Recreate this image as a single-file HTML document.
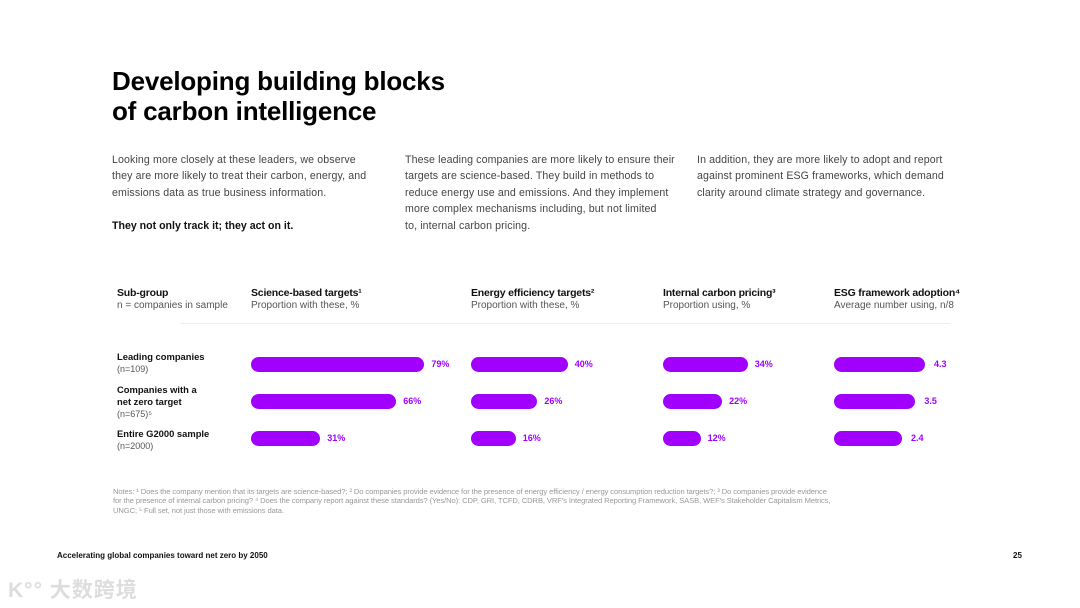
<!DOCTYPE html>
<html><head><meta charset="utf-8">
<style>
*{margin:0;padding:0;box-sizing:border-box}
body{width:1080px;height:608px;background:#fff;font-family:"Liberation Sans","Noto Sans CJK SC",sans-serif;color:#222;position:relative;overflow:hidden}
.abs{position:absolute}
h1{position:absolute;left:112px;top:66px;font-size:26px;line-height:30px;font-weight:bold;color:#000;letter-spacing:-0.2px}
.p{position:absolute;top:152px;font-size:10.6px;line-height:16.4px;color:#444;letter-spacing:0.12px;white-space:nowrap}
.hd b{font-size:10.5px;color:#111;display:block;letter-spacing:-0.2px}
.hd span{font-size:10px;color:#555;display:block;margin-top:1px}
.rl{font-size:9.4px;line-height:12px;color:#111;font-weight:bold}
.rl span{font-weight:normal;color:#555;font-size:9px}
.notes{left:113px;top:487px;font-size:7.6px;line-height:9.3px;color:#999;white-space:nowrap;letter-spacing:-0.1px}
</style></head><body>
<h1>Developing building blocks<br>of carbon intelligence</h1>
<div class="p" style="left:112px">Looking more closely at these leaders, we observe<br>they are more likely to treat their carbon, energy, and<br>emissions data as true business information.<br><br><b style="color:#111;letter-spacing:0">They not only track it; they act on it.</b></div>
<div class="p" style="left:405px">These leading companies are more likely to ensure their<br>targets are science-based. They build in methods to<br>reduce energy use and emissions. And they implement<br>more complex mechanisms including, but not limited<br>to, internal carbon pricing.</div>
<div class="p" style="left:697px">In addition, they are more likely to adopt and report<br>against prominent ESG frameworks, which demand<br>clarity around climate strategy and governance.</div>

<div class="abs hd" style="left:117px;top:287px"><b>Sub-group</b><span>n = companies in sample</span></div>
<div id="heads"></div>
<div class="abs" style="left:180px;top:323px;width:770px;height:1px;background:#eee"></div>
<div id="rows"></div>
<div id="chart"></div>

<div class="abs notes">Notes: ¹ Does the company mention that its targets are science-based?; ² Do companies provide evidence for the presence of energy efficiency / energy consumption reduction targets?; ³ Do companies provide evidence<br>for the presence of internal carbon pricing? ⁴ Does the company report against these standards? (Yes/No): CDP, GRI, TCFD, CDRB, VRF's Integrated Reporting Framework, SASB, WEF's Stakeholder Capitalism Metrics,<br>UNGC; ⁵ Full set, not just those with emissions data.</div>
<div class="abs" style="left:57px;top:551px;font-size:8px;font-weight:bold;color:#111">Accelerating global companies toward net zero by 2050</div>
<div class="abs" style="left:1013px;top:551px;font-size:8px;font-weight:bold;color:#111">25</div>
<div class="abs" style="left:8px;top:574px;font-size:21px;color:#ddd;font-weight:bold;letter-spacing:1px">K°° 大数跨境</div>

<script>
const categories = ["Leading companies","Companies with a net zero target","Entire G2000 sample"];
const sampleSizes = ["(n=109)","(n=675)⁵","(n=2000)"];
const panelTitles = ["Science-based targets¹","Energy efficiency targets²","Internal carbon pricing³","ESG framework adoption⁴"];
const panelSubs = ["Proportion with these, %","Proportion with these, %","Proportion using, %","Average number using, n/8"];
const scienceValues = [79,66,31];
const energyValues = [40,26,16];
const carbonValues = [34,22,12];
const esgValues = [4.3,3.5,2.4];

const panelX = [251,471,663,834];
const rowY = [364,401,438];
function scaleA(v){return 2 + v*2.17;}
function scaleB(v){return 10 + v*2.17;}
function scaleC(v){return 12 + v*2.14;}
function esgWidth(v){return 39 + v*12.1;}
const panels = [
 {vals:scienceValues, w:scaleA, fmt:v=>v+"%"},
 {vals:energyValues, w:scaleB, fmt:v=>v+"%"},
 {vals:carbonValues, w:scaleC, fmt:v=>v+"%"},
 {vals:esgValues, w:esgWidth, fmt:v=>v.toFixed(1)}
];

const heads=document.getElementById('heads');
panelTitles.forEach((t,i)=>{
  const d=document.createElement('div');
  d.className='abs hd';d.style.left=panelX[i]+'px';d.style.top='287px';
  d.innerHTML='<b>'+t+'</b><span>'+panelSubs[i]+'</span>';
  
  
  heads.appendChild(d);
});

const rows=document.getElementById('rows');
const labelTops=[351,384,428];
const labelHtml=["Leading companies","Companies with a<br>net zero target","Entire G2000 sample"];
categories.forEach((c,i)=>{
  const d=document.createElement('div');
  d.className='abs rl';d.style.left='117px';d.style.top=labelTops[i]+'px';
  d.innerHTML=labelHtml[i]+'<br><span>'+sampleSizes[i]+'</span>';
  
  
  rows.appendChild(d);
});

const chart=document.getElementById('chart');
panels.forEach((p,pi)=>{
  p.vals.forEach((v,ri)=>{
    const w=p.w(v);
    const b=document.createElement('div');
    b.className='abs';
    b.style.cssText='left:'+panelX[pi]+'px;top:'+(rowY[ri]-7)+'px;width:'+w+'px;height:15px;border-radius:8px;background:#a100ff';
    
    
    chart.appendChild(b);
    const l=document.createElement('div');
    l.className='abs';
    l.style.cssText='left:'+(panelX[pi]+w+(pi==3?9:7))+'px;top:'+(rowY[ri]-5)+'px;font-size:9px;font-weight:bold;color:#a100ff';
    l.textContent=p.fmt(v);
    
    
    chart.appendChild(l);
  });
});
</script>
</body></html>
